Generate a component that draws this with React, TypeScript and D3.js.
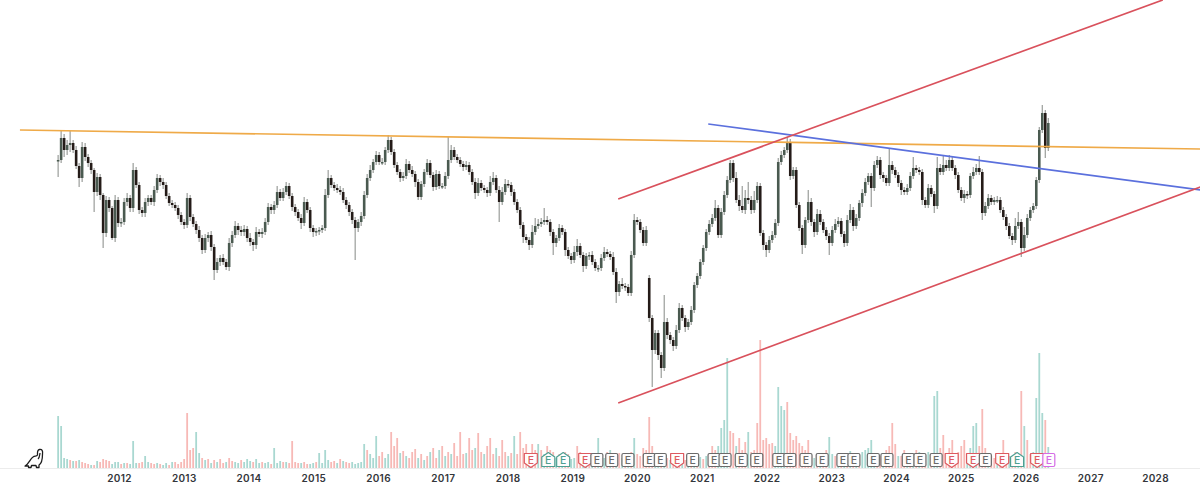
import { useEffect, useRef } from "react";
import * as d3 from "d3";

// One candle every 1/21.58 of a year, starting early 2011. Prices are in chart units (no axis shown).
const firstYear = 2011.06;
const candlesPerYear = 21.58;

const closes = [
  240, 262, 250, 255, 257, 250, 234, 222, 253, 243,
  237, 230, 208, 223, 205, 167, 200, 192, 162, 200,
  177, 178, 198, 202, 192, 230, 215, 190, 187, 198,
  202, 198, 210, 222, 218, 215, 204, 197, 195, 192,
  185, 178, 175, 202, 183, 176, 170, 162, 150, 162,
  165, 153, 130, 138, 142, 138, 133, 157, 165, 174,
  170, 168, 171, 162, 158, 155, 168, 166, 168, 178,
  193, 190, 195, 208, 202, 208, 214, 204, 193, 188,
  182, 177, 198, 190, 172, 168, 169, 170, 172, 205,
  222, 215, 212, 210, 208, 200, 195, 188, 180, 172,
  178, 184, 205, 222, 230, 238, 245, 238, 238, 250,
  260, 248, 235, 228, 222, 224, 236, 230, 226, 218,
  203, 216, 228, 237, 225, 213, 226, 214, 214, 224,
  240, 250, 243, 240, 236, 233, 235, 228, 218, 207,
  217, 212, 210, 207, 218, 222, 210, 198, 208, 216,
  215, 208, 198, 190, 175, 163, 160, 155, 168, 174,
  176, 178, 180, 178, 168, 157, 162, 172, 168, 150,
  144, 140, 148, 154, 145, 134, 144, 145, 138, 132,
  132, 142, 148, 146, 143, 128, 108, 116, 114, 113,
  107, 145, 180, 178, 170, 157, 170, 82, 50, 67,
  45, 32, 78, 65, 60, 54, 70, 92, 82, 73,
  78, 90, 115, 124, 138, 152, 168, 176, 182, 192,
  165, 188, 205, 220, 237, 222, 200, 194, 190, 202,
  200, 190, 200, 214, 167, 155, 150, 160, 165, 177,
  238, 245, 250, 258, 224, 230, 195, 172, 155, 180,
  198, 178, 168, 186, 178, 170, 164, 157, 170, 176,
  179, 166, 157, 180, 190, 174, 182, 197, 207, 218,
  224, 212, 235, 240, 225, 222, 217, 235, 230, 225,
  217, 210, 208, 212, 224, 232, 230, 228, 200, 195,
  212, 206, 194, 232, 228, 235, 232, 240, 232, 225,
  210, 202, 206, 205, 224, 228, 232, 228, 187, 194,
  202, 198, 200, 200, 190, 183, 174, 164, 160, 174,
  178, 152, 165, 182, 190, 194, 220, 270, 287, 252,
  277,
];

const wickUp = [
  5, 7, 4, 5, 12, 3, 4, 3, 5, 4,
  3, 3, 2, 4, 3, 2, 4, 3, 2, 5,
  3, 4, 4, 5, 3, 7, 3, 3, 3, 4,
  3, 3, 4, 4, 3, 4, 3, 3, 3, 3,
  3, 3, 3, 5, 3, 3, 3, 4, 3, 4,
  3, 4, 3, 4, 3, 4, 3, 5, 4, 5,
  3, 4, 4, 3, 5, 3, 5, 3, 4, 4,
  4, 3, 4, 6, 3, 4, 4, 3, 3, 3,
  3, 4, 5, 3, 3, 3, 3, 3, 3, 6,
  8, 3, 3, 4, 4, 4, 3, 3, 3, 3,
  3, 4, 4, 4, 5, 3, 4, 3, 4, 3,
  5, 3, 3, 3, 3, 4, 5, 3, 4, 3,
  3, 3, 3, 4, 3, 3, 4, 3, 3, 4,
  23, 5, 3, 3, 3, 3, 4, 3, 3, 4,
  5, 3, 3, 3, 6, 6, 3, 4, 5, 5,
  4, 3, 3, 3, 3, 3, 3, 3, 7, 8,
  5, 4, 12, 4, 3, 3, 3, 4, 3, 3,
  3, 3, 6, 7, 3, 3, 3, 3, 4, 3,
  3, 4, 5, 3, 3, 5, 4, 3, 6, 3,
  3, 4, 6, 3, 3, 3, 4, 3, 3, 3,
  3, 3, 27, 4, 3, 3, 5, 5, 3, 3,
  3, 4, 3, 3, 3, 3, 3, 4, 4, 8,
  3, 4, 4, 4, 3, 3, 6, 5, 20, 8,
  16, 4, 9, 4, 3, 3, 3, 4, 4, 4,
  4, 4, 3, 5, 3, 3, 3, 3, 3, 3,
  12, 4, 3, 5, 4, 3, 3, 3, 4, 5,
  4, 3, 3, 5, 6, 3, 4, 3, 4, 4,
  3, 3, 4, 4, 3, 3, 3, 17, 4, 3,
  3, 3, 3, 4, 4, 11, 3, 3, 3, 3,
  4, 3, 3, 11, 4, 10, 5, 5, 3, 3,
  3, 3, 4, 3, 3, 5, 4, 12, 3, 4,
  4, 3, 3, 4, 3, 3, 3, 3, 3, 8,
  10, 3, 8, 4, 3, 3, 3, 3, 8, 3,
  5,
];

const wickDown = [
  17, 3, 7, 5, 7, 3, 3, 9, 4, 4,
  4, 4, 20, 4, 5, 15, 4, 4, 2, 4,
  4, 4, 3, 4, 4, 4, 3, 4, 4, 4,
  4, 3, 4, 3, 4, 4, 3, 3, 3, 3,
  4, 3, 4, 3, 4, 3, 4, 4, 4, 3,
  4, 4, 10, 3, 4, 3, 3, 4, 4, 3,
  5, 4, 4, 4, 4, 6, 4, 3, 4, 3,
  3, 4, 4, 3, 3, 3, 3, 3, 4, 4,
  3, 6, 3, 3, 4, 5, 4, 4, 3, 3,
  3, 3, 3, 3, 3, 3, 4, 4, 4, 32,
  4, 4, 3, 3, 3, 3, 3, 3, 3, 3,
  3, 3, 3, 3, 4, 3, 3, 3, 3, 5,
  3, 3, 3, 3, 3, 4, 3, 3, 3, 3,
  3, 3, 3, 3, 3, 4, 3, 3, 3, 6,
  3, 3, 3, 4, 3, 3, 3, 20, 3, 3,
  3, 4, 3, 3, 4, 6, 3, 5, 3, 3,
  3, 3, 3, 3, 4, 12, 4, 3, 3, 6,
  3, 4, 3, 4, 3, 6, 3, 4, 3, 3,
  4, 3, 3, 3, 3, 3, 11, 4, 3, 4,
  3, 3, 3, 3, 3, 3, 3, 4, 37, 4,
  5, 10, 3, 4, 4, 5, 3, 3, 3, 5,
  3, 3, 3, 3, 3, 3, 3, 3, 3, 3,
  3, 3, 3, 3, 3, 4, 3, 5, 3, 4,
  4, 4, 3, 3, 3, 5, 7, 3, 3, 3,
  3, 3, 3, 3, 4, 3, 3, 3, 9, 3,
  3, 4, 5, 3, 3, 3, 4, 12, 3, 3,
  3, 3, 4, 3, 3, 5, 3, 3, 4, 3,
  3, 19, 3, 3, 4, 4, 3, 3, 4, 3,
  4, 5, 3, 3, 3, 3, 3, 3, 5, 3,
  3, 3, 7, 3, 3, 3, 3, 3, 3, 4,
  3, 3, 5, 4, 3, 3, 3, 3, 7, 3,
  3, 3, 3, 3, 3, 3, 4, 3, 5, 3,
  3, 9, 3, 3, 3, 3, 3, 3, 3, 10,
  3,
];

// Positive = up week (teal), negative = down week (red)
const volumes = [
  52, 42, 10, 9, -8, 7, -7, 8, -6, -5,
  -4, 3, -3, 7, -6, -9, -8, -7, 4, 6,
  6, -4, 5, -5, 4, 27, 5, -5, -6, 12,
  6, -5, -4, 5, -4, 3, 5, -3, 6, -6,
  -4, -6, -9, -55, -18, -20, 36, 15, -10, 8,
  -9, 5, -8, 6, -9, -5, 6, -10, -7, 6,
  5, -8, 6, 9, 7, -6, 9, 5, -6, 5,
  6, -4, 20, 5, 7, -6, 6, -5, -27, -6,
  -5, 5, -6, -4, 4, 5, -6, 15, 5, 18,
  8, -6, -7, 5, -9, 7, -6, -5, 6, 4,
  5, 6, 24, -18, 14, 10, 32, -12, -16, 10,
  14, -36, -22, -30, 15, -17, 12, -10, -16, -19,
  10, -14, 8, -12, 16, -20, -10, 18, -22, 12,
  -16, 14, -25, -12, -36, -14, 15, -30, -18, 20,
  -35, -16, 14, -22, -30, -14, 20, -12, -28, -16,
  12, -15, 32, -14, -36, -20, -24, 14, -24, -18,
  24, -18, 14, -22, -18, -16, 10, -14, 12, -16,
  -14, 9, 10, -22, -16, 9, 11, -10, 15, -12,
  30, -10, 10, -16, 18, -12, 12, -15, 10, -14,
  14, -16, 30, -14, -12, -20, -18, -51, -22, 12,
  10, -9, 9, -10, 8, -10, 12, -9, 10, -8,
  8, -10, 9, -10, 11, -9, 12, -14, -22, -18,
  22, 40, 48, 110, -37, -35, 22, -30, -18, -26,
  36, -16, -18, -45, -128, -28, -30, -24, -25, 22,
  81, 62, 58, -66, -35, -28, -32, -25, -22, -18,
  -28, -12, 10, -14, 12, -14, -18, 31, 14, -12,
  13, -11, 15, -12, 17, -14, 12, -12, 16, 18,
  20, 28, 12, -12, -12, 10, -18, -22, -45, -24,
  12, -12, -18, 12, -15, 14, -18, 16, -14, -12,
  16, -14, 72, 77, -20, -33, -14, -20, -28, -15,
  -16, -22, -28, 12, 20, 42, 45, -22, -59, -20,
  14, -12, -10, 12, -14, -28, -14, 12, -12, -16,
  14, -77, 42, -28, -14, 16, 70, 115, 55, -48,
  21,
];

// Candle 197 opens on a gap below the previous close
const gapOpens: Record<number, number> = { 197: 122 };

const yearTicks = d3.range(2012, 2029);

const earningsYears = [
  2018.36, 2018.63, 2018.86, 2019.2, 2019.38, 2019.61, 2019.86, 2020.19, 2020.36, 2020.62, 2020.86,
  2021.19, 2021.36, 2021.61, 2021.85, 2022.19, 2022.36, 2022.61, 2022.86, 2023.18, 2023.35, 2023.65,
  2023.86, 2024.19, 2024.37, 2024.62, 2024.86, 2025.19, 2025.38, 2025.64, 2025.87, 2026.18, 2026.36,
];
// miss = red, beat = teal, inline = grey, upcoming = purple
const earningsKinds = [
  "miss", "beat", "beat", "miss", "inline", "inline", "inline", "inline", "inline", "miss", "inline",
  "inline", "inline", "inline", "inline", "inline", "inline", "inline", "inline", "inline", "inline", "inline",
  "inline", "inline", "inline", "inline", "miss", "miss", "inline", "miss", "beat", "miss", "next",
];

const lineYears = [
  [2010.47, 2028.7],
  [2021.1, 2028.7],
  [2019.71, 2028.12],
  [2019.71, 2028.7],
];
const linePrices = [
  [270, 251],
  [276, 210],
  [201, 400],
  [-3, 213],
];
const lineColors = ["#efaa48", "#5b70dd", "#d9515c", "#d9515c"];

const kindColors: Record<string, string> = {
  miss: "#dd5a60",
  beat: "#4f9f92",
  inline: "#6a6a6a",
  next: "#d56ce6",
};

export default function App() {
  const svgRef = useRef<SVGSVGElement>(null);

  useEffect(() => {
    if (!svgRef.current) return;
    const svg = d3.select(svgRef.current);
    svg.selectAll("*").remove();

    const xScale = d3.scaleLinear().domain([2012, 2028]).range([119, 1155]);
    const yScale = d3.scaleLinear().domain([0, 300]).range([400, 100]);
    const volScale = d3.scaleLinear().domain([0, 120]).range([468, 348]);
    const candleX = (i: number) => xScale(firstYear + i / candlesPerYear);

    // Baseline under the volume
    svg.append("line")
      .attr("x1", 0).attr("x2", 1200).attr("y1", 468.5).attr("y2", 468.5)
      .attr("stroke", "#ececec").attr("stroke-width", 1);

    // Volume
    svg.append("g").selectAll("rect").data(volumes).enter().append("rect")
      .attr("x", (_, i) => candleX(i) - 0.9)
      .attr("width", 1.8)
      .attr("y", d => volScale(Math.abs(d)))
      .attr("height", d => volScale(0) - volScale(Math.abs(d)))
      .attr("fill", d => (d > 0 ? "#a9d8d1" : "#f7b9b6"));

    // Candles
    const opens = closes.map((c, i) => gapOpens[i] ?? (i === 0 ? c : closes[i - 1]));
    const candles = svg.append("g");
    closes.forEach((close, i) => {
      const open = opens[i];
      const top = Math.max(open, close);
      const bottom = Math.min(open, close);
      candles.append("line")
        .attr("x1", candleX(i)).attr("x2", candleX(i))
        .attr("y1", yScale(top + wickUp[i])).attr("y2", yScale(bottom - wickDown[i]))
        .attr("stroke", "#9a9d9a").attr("stroke-width", 1.2);
      candles.append("rect")
        .attr("x", candleX(i) - 1.3).attr("width", 2.6)
        .attr("y", yScale(top))
        .attr("height", Math.max(1.5, yScale(bottom) - yScale(top)))
        .attr("fill", close >= open ? "#4a5a50" : "#241b18");
    });

    // Trend lines
    lineYears.forEach((years, k) => {
      svg.append("line")
        .attr("x1", xScale(years[0])).attr("x2", xScale(years[1]))
        .attr("y1", yScale(linePrices[k][0])).attr("y2", yScale(linePrices[k][1]))
        .attr("stroke", lineColors[k]).attr("stroke-width", 1.7);
    });

    // Earnings badges
    const badgeY = 460;
    const badges = svg.append("g");
    earningsYears.forEach((year, i) => {
      const kind = earningsKinds[i];
      const color = kindColors[kind];
      const g = badges.append("g")
        .attr("transform", `translate(${xScale(year)},${badgeY})`);
      if (kind === "miss") {
        g.append("path").attr("d", "M-6.5,-6.5 H6.5 V3 L0,7.5 L-6.5,3 Z");
      } else if (kind === "beat") {
        g.append("path").attr("d", "M0,-7.5 L6.5,-3 V6.5 H-6.5 V-3 Z");
      } else {
        g.append("rect").attr("x", -6).attr("y", -6.5).attr("width", 12).attr("height", 13).attr("rx", 1.5);
      }
      g.selectAll("path,rect")
        .attr("fill", "#fff").attr("fill-opacity", 0.92)
        .attr("stroke", color).attr("stroke-width", 1.2)
        .attr("stroke-linejoin", "round");
      g.append("text")
        .attr("text-anchor", "middle").attr("y", 3.7)
        .attr("font-family", "Inter, sans-serif").attr("font-size", 10.5).attr("font-weight", 500)
        .attr("fill", color).text("E");
    });

    // Year axis
    svg.append("g").attr("transform", "translate(0,468)")
      .call(d3.axisBottom(xScale).tickValues(yearTicks).tickFormat(d3.format("d")).tickSize(0).tickPadding(7))
      .call(ax => ax.select(".domain").remove())
      .call(ax => ax.selectAll(".tick text")
        .attr("fill", "#33363b").attr("font-size", 10).attr("font-weight", 600)
        .attr("font-family", "Inter, sans-serif").attr("letter-spacing", "0.3px"));

    // Dinosaur logo
    svg.append("path")
      .attr("d", "M25,466 C29,464 30,459 33,457 C35,455.5 36.5,457 37.5,455 C37.5,452 37,450 39.5,449.5 C42,449 43,451 42.5,454 C42.5,458 42.5,463 39,465 L39,467.5 L36.5,467.5 L36,465.5 L31.5,465.5 L31,467.5 L28.5,467.5 L28.5,466 Z M40,453 C39.5,456 39.5,458 38,459")
      .attr("fill", "none").attr("stroke", "#1c1c1c").attr("stroke-width", 1.3)
      .attr("stroke-linejoin", "round");
  }, []);

  return (
    <svg
      ref={svgRef}
      width={1200}
      height={488}
      style={{ position: "absolute", left: 0, top: 0, background: "#fff" }}
    />
  );
}
